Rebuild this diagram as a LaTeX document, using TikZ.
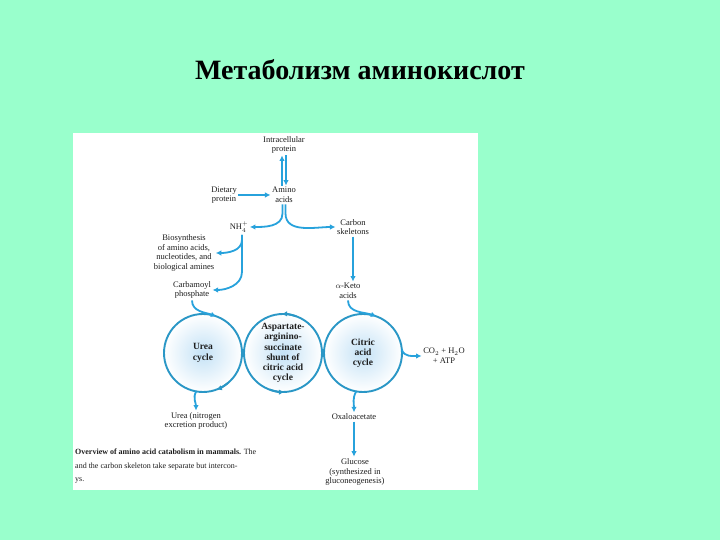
\documentclass[tikz,border=0pt]{standalone}
\usepackage{fontspec}
\setmainfont{Liberation Serif}
\usetikzlibrary{arrows.meta,positioning,calc}
\definecolor{mint}{HTML}{99FFCC}
\definecolor{pathblue}{HTML}{27A2DC}
\definecolor{ringblue}{HTML}{2A97C6}
\definecolor{ringfill}{HTML}{C4E2F6}
\definecolor{txt}{HTML}{1E1E1E}

\begin{document}
\begin{tikzpicture}[x=1pt, y=1pt,
    lbl/.style={align=center, font=\fontsize{8.5}{9.8}\selectfont, text=txt, inner sep=1.5pt},
    cyc/.style={circle, draw=ringblue, line width=1.9pt, minimum size=78pt,
                inner sep=0pt, outer sep=0pt, shade, inner color=ringfill, outer color=white,
                align=center, font=\fontsize{9.5}{10.2}\selectfont\bfseries, text=txt},
    arr/.style={-{Latex[length=5.5pt,width=5.5pt]}, line width=1.8pt, color=pathblue},
    tip/.style={-{Latex[length=5.5pt,width=5.5pt]}, line width=1.9pt, color=ringblue}
]
  \useasboundingbox (0,0) rectangle (720,540);
  \fill[mint] (0,0) rectangle (720,540);
  \node[font=\fontsize{28}{32}\selectfont\bfseries, text=black] (title) at (360,470) {Метаболизм аминокислот};
  \fill[white] (73,50) rectangle (478,407);

  % sources and branches
  \node[lbl] (ip) at (284,395) {Intracellular\\protein};
  \node[lbl] (aa) at (284,345) {Amino\\acids};
  \node[lbl] (dp) at (224,345) {Dietary\\protein};
  \node[lbl] (nh) at (239,313) {NH$_4^+$};
  \node[lbl] (cs) at (353,313) {Carbon\\skeletons};
  \node[lbl] (bio) at (184,287) {Biosynthesis\\of amino acids,\\nucleotides, and\\biological amines};
  \node[lbl] (cp) at (192,250) {Carbamoyl\\phosphate};
  \node[lbl] (keto) at (348,249) {$\alpha$-Keto\\acids};

  \draw[arr] ([xshift=2pt]ip.south) -- ([xshift=2pt]aa.north);
  \draw[arr] ([xshift=-2pt]aa.north) -- ([xshift=-2pt]ip.south);
  \draw[arr] (dp.east) -- (aa.west);
  \draw[arr] ([xshift=-1.5pt]aa.south) -- ++(0,-9) to[out=-90, in=0] (nh.east);
  \draw[arr] ([xshift=1.5pt]aa.south) -- ++(0,-9) to[out=-90, in=180] (cs.west);
  \draw[arr] ([shift={(3pt,-1pt)}]nh.south) -- ++(0,-5) to[out=-90, in=0] (bio.east);
  \draw[arr] ([shift={(3pt,-1pt)}]nh.south) -- ++(0,-37) to[out=-90, in=0] (cp.east);
  \draw[arr] (cs.south) -- (cs.south |- keto.north);

  % cycles
  \node[cyc] (urea) at (203,187) {Urea\\cycle};
  \node[cyc] (asp) at (283,187) {Aspartate-\\arginino-\\succinate\\shunt of\\citric acid\\cycle};
  \node[cyc] (cit) at (363,187) {Citric\\acid\\cycle};

  \draw[tip] (urea.-50) arc[start angle=-50, end angle=-70, radius=39pt];
  \draw[tip] (asp.70) arc[start angle=70, end angle=92, radius=39pt];
  \draw[tip] (asp.-110) arc[start angle=-110, end angle=-88, radius=39pt];

  \draw[arr] (cp.south) to[out=-90, in=160] (urea.70);
  \draw[arr] (keto.south) to[out=-90, in=160] (cit.70);

  % products
  \node[lbl] (co2) at (444,184) {CO$_2$ + H$_2$O\\+ ATP};
  \node[lbl] (uo) at (196,119) {Urea (nitrogen\\excretion product)};
  \node[lbl] (oxa) at (354,123) {Oxaloacetate};
  \node[lbl] (glu) at (355,68) {Glucose\\(synthesized in\\gluconeogenesis)};

  \draw[arr] (urea.-100) to[out=-120, in=90] (uo.north);
  \draw[arr] (cit.-100) to[out=-120, in=90] (oxa.north);
  \draw[arr] (cit.5) to[out=-75, in=180] (co2.west);
  \draw[arr] (oxa.south) -- (oxa.south |- glu.north);

  \node[anchor=north west, align=left, inner sep=0pt, font=\fontsize{8}{13.5}\selectfont, text=txt] (cap) at (75,91)
    {\textbf{Overview of amino acid catabolism in mammals.} The\\
     and the carbon skeleton take separate but intercon-\\
     ys.};
\end{tikzpicture}
\end{document}
